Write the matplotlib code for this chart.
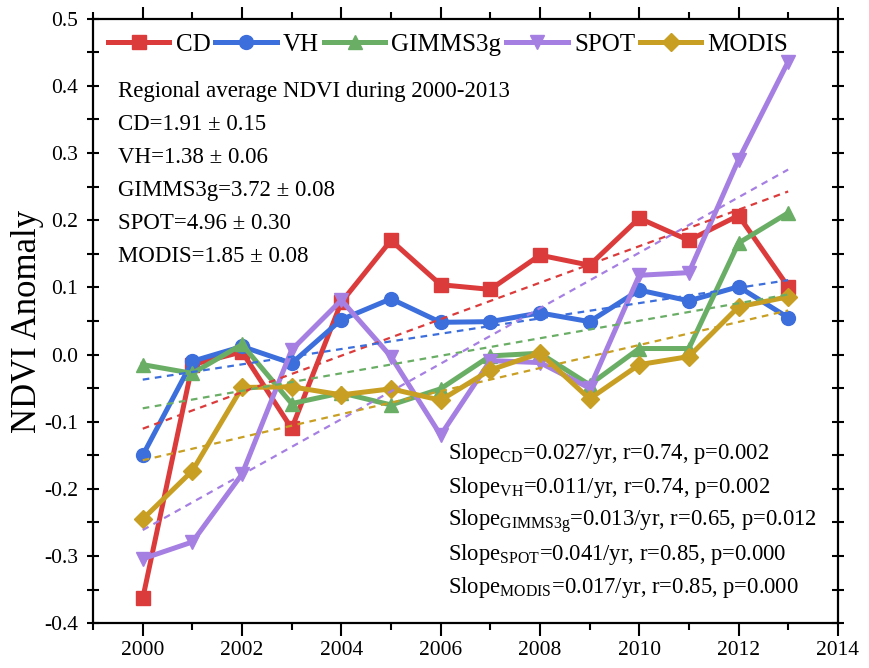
import numpy as np
import matplotlib
matplotlib.use("Agg")
import matplotlib.pyplot as plt
from matplotlib.ticker import MultipleLocator, FormatStrFormatter

plt.rcParams['font.family'] = ['Liberation Serif', 'DejaVu Serif']
plt.rcParams['mathtext.fontset'] = 'custom'
plt.rcParams['mathtext.rm'] = 'Liberation Serif'
plt.rcParams['mathtext.it'] = 'Liberation Serif:italic'

# data
years = np.arange(2000, 2014)
cd = [-0.363, -0.015, 0.004, -0.110, 0.078, 0.170, 0.104, 0.097, 0.148, 0.133, 0.203, 0.170, 0.207, 0.101]
vh = [-0.150, -0.010, 0.012, -0.013, 0.052, 0.083, 0.048, 0.049, 0.062, 0.049, 0.096, 0.080, 0.101, 0.055]
gimms = [-0.015, -0.028, 0.015, -0.073, -0.057, -0.075, -0.051, -0.002, 0.002, -0.045, 0.009, 0.009, 0.166, 0.211]
spot = [-0.304, -0.279, -0.178, 0.007, 0.081, -0.003, -0.120, -0.009, -0.012, -0.050, 0.118, 0.122, 0.290, 0.436]
modis = [-0.245, -0.173, -0.049, -0.048, -0.060, -0.051, -0.068, -0.023, 0.002, -0.066, -0.015, -0.003, 0.071, 0.086]

names = ['CD', 'VH', 'GIMMS3g', 'SPOT', 'MODIS']
series = [cd, vh, gimms, spot, modis]
colors = ['#DC3B3B', '#3C6EDC', '#6AAE66', '#A67FE3', '#C89F22']
markers = ['s', 'o', '^', 'v', 'D']

info_lines = [
    'Regional average NDVI during 2000-2013',
    'CD=1.91 \u00b1 0.15',
    'VH=1.38 \u00b1 0.06',
    'GIMMS3g=3.72 \u00b1 0.08',
    'SPOT=4.96 \u00b1 0.30',
    'MODIS=1.85 \u00b1 0.08',
]
slope_lines = [
    r'Slope$_{\mathrm{CD}}$=0.027/yr, r=0.74, p=0.002',
    r'Slope$_{\mathrm{VH}}$=0.011/yr, r=0.74, p=0.002',
    r'Slope$_{\mathrm{GIMMS3g}}$=0.013/yr, r=0.65, p=0.012',
    r'Slope$_{\mathrm{SPOT}}$=0.041/yr, r=0.85, p=0.000',
    r'Slope$_{\mathrm{MODIS}}$=0.017/yr, r=0.85, p=0.000',
]

fig = plt.figure(figsize=(8.7, 6.68), dpi=100)
ax = fig.add_axes([0.107, 0.067, 0.856, 0.905])

for name, vals, c, m in zip(names, series, colors, markers):
    ms = 9 if m == 'D' else 10
    ax.plot(years, vals, color=c, lw=3.6, marker=m, ms=ms, label=name, zorder=3)

# linear trends
for vals, c in zip(series, colors):
    k, b = np.polyfit(years, vals, 1)
    ax.plot(years, k * years + b, color=c, lw=1.6, ls=(0, (3, 2.5)), zorder=4)

ax.set_xlim(1999, 2014)
ax.set_ylim(-0.4, 0.5)
ax.xaxis.set_major_locator(MultipleLocator(2))
ax.xaxis.set_minor_locator(MultipleLocator(1))
ax.yaxis.set_major_locator(MultipleLocator(0.1))
ax.yaxis.set_minor_locator(MultipleLocator(0.05))
ax.yaxis.set_major_formatter(FormatStrFormatter('%.1f'))

ax.tick_params(axis='both', which='major', labelsize=15.5, width=1.5)
ax.tick_params(axis='x', which='major', direction='out', length=9, top=True)
ax.tick_params(axis='x', which='minor', direction='out', length=5, width=1.5, top=True)
ax.tick_params(axis='y', which='both', direction='inout', length=8, width=1.5, right=True)
ax.tick_params(axis='y', which='major', pad=7)
for s in ax.spines.values():
    s.set_linewidth(1.6)

ax.set_ylabel('NDVI Anomaly', fontsize=25, labelpad=0)

ax.legend(loc='upper left', bbox_to_anchor=(0.0, 1.0), ncol=5, frameon=False,
          fontsize=18, handlelength=2.45, handletextpad=0.25, columnspacing=0.2,
          borderaxespad=0.2)

for i, t in enumerate(info_lines):
    ax.text(0.034, 0.879 - i * 0.0546, t, transform=ax.transAxes, fontsize=16.5,
            va='center', ha='left')

for i, t in enumerate(slope_lines):
    ax.text(0.476, 0.280 - i * 0.0553, t, transform=ax.transAxes, fontsize=16.3,
            va='center', ha='left')

fig.savefig('out.png', dpi=100)
